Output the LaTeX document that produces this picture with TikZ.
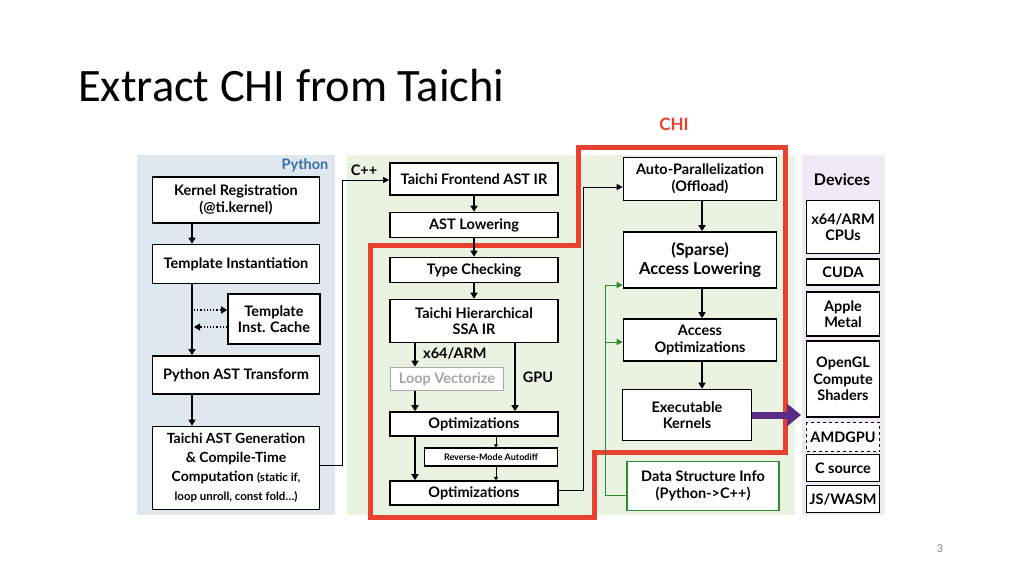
\documentclass[tikz,border=0pt]{standalone}
\usepackage{fontspec}
\setmainfont{Carlito}
\newfontfamily\boxfont{Lato}
\usetikzlibrary{arrows.meta, positioning, calc}
\definecolor{pyblue}{HTML}{DFE8EF}
\definecolor{pytext}{HTML}{3A6EA5}
\definecolor{cppgreen}{HTML}{EAF3E2}
\definecolor{devpurple}{HTML}{F0EAF6}
\definecolor{chired}{HTML}{E8412F}
\definecolor{dsgreen}{HTML}{2E8B2E}
\definecolor{kpurple}{HTML}{5B2C83}

\begin{document}
\begin{tikzpicture}[
  x=1pt, y=-1pt,
  font=\boxfont\bfseries\fontsize{14.5}{16.5}\selectfont,
  box/.style={draw, fill=white, line width=1.6pt, align=center, inner sep=1pt, minimum width=#1},
  box/.default=167pt,
  sbox/.style={draw, fill=white, line width=1.6pt, align=center, inner sep=1pt, minimum width=73pt},
  arrow/.style={-{Triangle[length=6pt,width=7pt]}, line width=1.8pt},
  tarrow/.style={-{Triangle[length=3pt,width=4pt]}, line width=0.7pt},
  larrow/.style={-{Triangle[length=6pt,width=6pt]}, line width=1pt},
  garrow/.style={-{Triangle[length=6pt,width=6pt]}, line width=1pt, dsgreen}
]
\useasboundingbox (0,0) rectangle (1024,575);

% --- Title ---
\node[anchor=base west, font=\fontsize{46.5}{50}\selectfont, inner sep=0pt] (title) at (78,102) {Extract CHI from Taichi};
\node[font=\fontsize{12}{14}\selectfont, text=gray] (page) at (940,549) {3};

% --- Panels ---
\fill[pyblue] (137,155) rectangle (335,515);
\fill[cppgreen] (347,155) rectangle (795,515);
\fill[devpurple] (802,155) rectangle (885,515);
\node[text=pytext] (py) at (305,165) {Python};
\node (cpp) at (364,170) {C++};

% --- Python column ---
\node[box, minimum height=46pt] (reg) at (236,200) {Kernel Registration\\(@ti.kernel)};
\node[box, minimum height=39pt] (inst) at (236,264) {Template Instantiation};
\node[box=92pt, minimum height=50pt] (cache) at (274,319) {Template\\Inst. Cache};
\node[box, minimum height=38pt] (pyast) at (236,375) {Python AST Transform};
\node[box, minimum height=83pt, font=\boxfont\bfseries\fontsize{14}{19}\selectfont] (astgen) at (236,468) {Taichi AST Generation\\\& Compile-Time\\Computation {\fontsize{11.5}{13}\selectfont(static if,}\\{\fontsize{11.5}{13}\selectfont loop unroll, const fold\dots)}};

% --- C++ column ---
\node[box=168pt, minimum height=32pt] (front) at (474,179) {Taichi Frontend AST IR};
\node[box=168pt, minimum height=25pt] (lower) at (474,225) {AST Lowering};
\node[box=168pt, minimum height=25pt] (typec) at (474,270) {Type Checking};
\node[box=168pt, minimum height=43pt] (ssa) at (474,321) {Taichi Hierarchical\\SSA IR};
\node[box=113pt, minimum height=23pt, draw=gray!70, text=gray!70] (vect) at (447,379) {Loop Vectorize};
\node[box=168pt, minimum height=24pt] (opta) at (474,424) {Optimizations};
\node[box=133pt, minimum height=18pt, line width=1.2pt, font=\boxfont\bfseries\fontsize{9}{10}\selectfont] (autodiff) at (491,457) {Reverse-Mode Autodiff};
\node[box=168pt, minimum height=24pt] (optb) at (474,493) {Optimizations};

% --- CHI backend column ---
\node[box=153pt, minimum height=43pt] (offload) at (700,179) {Auto-Parallelization\\(Offload)};
\node[box=153pt, minimum height=56pt, font=\boxfont\bfseries\fontsize{16.5}{19}\selectfont] (sparse) at (700,260) {(Sparse)\\Access Lowering};
\node[box=153pt, minimum height=42pt] (accopt) at (700,340) {Access\\Optimizations};
\node[box=129pt, minimum height=51pt] (exec) at (687,415) {Executable\\Kernels};
\node[box=152pt, minimum height=49pt, draw=dsgreen] (dsinfo) at (703,486) {Data Structure Info\\(Python->C++)};

% --- Devices ---
\node[font=\boxfont\bfseries\fontsize{16}{18}\selectfont] (dev) at (842,180) {Devices};
\node[sbox, minimum height=53pt] (cpu) at (843,227) {x64/ARM\\CPUs};
\node[sbox, minimum height=26pt] (cuda) at (843,272) {CUDA};
\node[sbox, minimum height=44pt] (metal) at (843,314) {Apple\\Metal};
\node[sbox, minimum height=76pt] (opengl) at (843,379) {OpenGL\\Compute\\Shaders};
\node[sbox, minimum height=29pt, dashed] (amd) at (843,437) {AMDGPU};
\node[sbox, minimum height=27pt] (csrc) at (843,468) {C source};
\node[sbox, minimum height=27pt] (wasm) at (843,499) {JS/WASM};

% --- CHI outline ---
\draw[chired, line width=5pt] (370,245) -- (578,245) -- (578,147) -- (785,147) -- (785,452)
  -- (594,452) -- (594,517) -- (370,517) -- cycle;
\node[text=chired, font=\boxfont\bfseries\fontsize{17}{19}\selectfont] (chi) at (674,124) {CHI};

% --- Arrows: Python ---
\draw[arrow] (reg.south -| 192,0) -- (inst.north -| 192,0);
\draw[arrow] (inst.south -| 192,0) -- (pyast.north -| 192,0);
\draw[arrow] (pyast.south -| 192,0) -- (astgen.north -| 192,0);
\draw[arrow, line width=1.2pt, dotted] (194,310) -- (cache.west |- 0,310);
\draw[arrow, line width=1.2pt, dotted] (cache.west |- 0,327) -- (194,327);
\draw[larrow] (astgen.east |- 0,465) -- (342,465) -- (342,180) -- (front.west |- 0,180);

% --- Arrows: C++ ---
\draw[arrow] (front) -- (lower);
\draw[arrow] (lower) -- (typec);
\draw[arrow] (typec) -- (ssa);
\draw[arrow] (ssa.south -| 415,0) -- node[right=4pt, pos=0.45] (x64) {x64/ARM} (vect.north -| 415,0);
\draw[arrow] (vect.south -| 415,0) -- (opta.north -| 415,0);
\draw[arrow] (ssa.south -| 515,0) -- (opta.north -| 515,0);
\node (gpu) at (538,377) {GPU};
\draw[arrow] (opta.south -| 415,0) -- (optb.north -| 415,0);
\draw[tarrow] (opta.south -| 496,0) -- (autodiff.north -| 496,0);
\draw[tarrow] (autodiff.south -| 496,0) -- (optb.north -| 496,0);
\draw[larrow] (optb.east |- 0,490) -- (583,490) -- (583,187) -- (offload.west |- 0,187);

% --- Arrows: CHI ---
\draw[arrow] (offload.south -| 702,0) -- (sparse.north -| 702,0);
\draw[arrow] (sparse.south -| 702,0) -- (accopt.north -| 702,0);
\draw[arrow] (accopt.south -| 702,0) -- (exec.north -| 702,0);
\draw[dsgreen, line width=1pt] (dsinfo.west |- 0,495) -- (605,495) -- (605,285);
\draw[garrow] (605,285) -- (sparse.west |- 0,285);
\draw[garrow] (605,342) -- (accopt.west |- 0,342);
\draw[-{Triangle[length=14pt,width=22pt]}, line width=7pt, kpurple] (exec.east |- 0,415) -- (801,415);
\end{tikzpicture}
\end{document}
